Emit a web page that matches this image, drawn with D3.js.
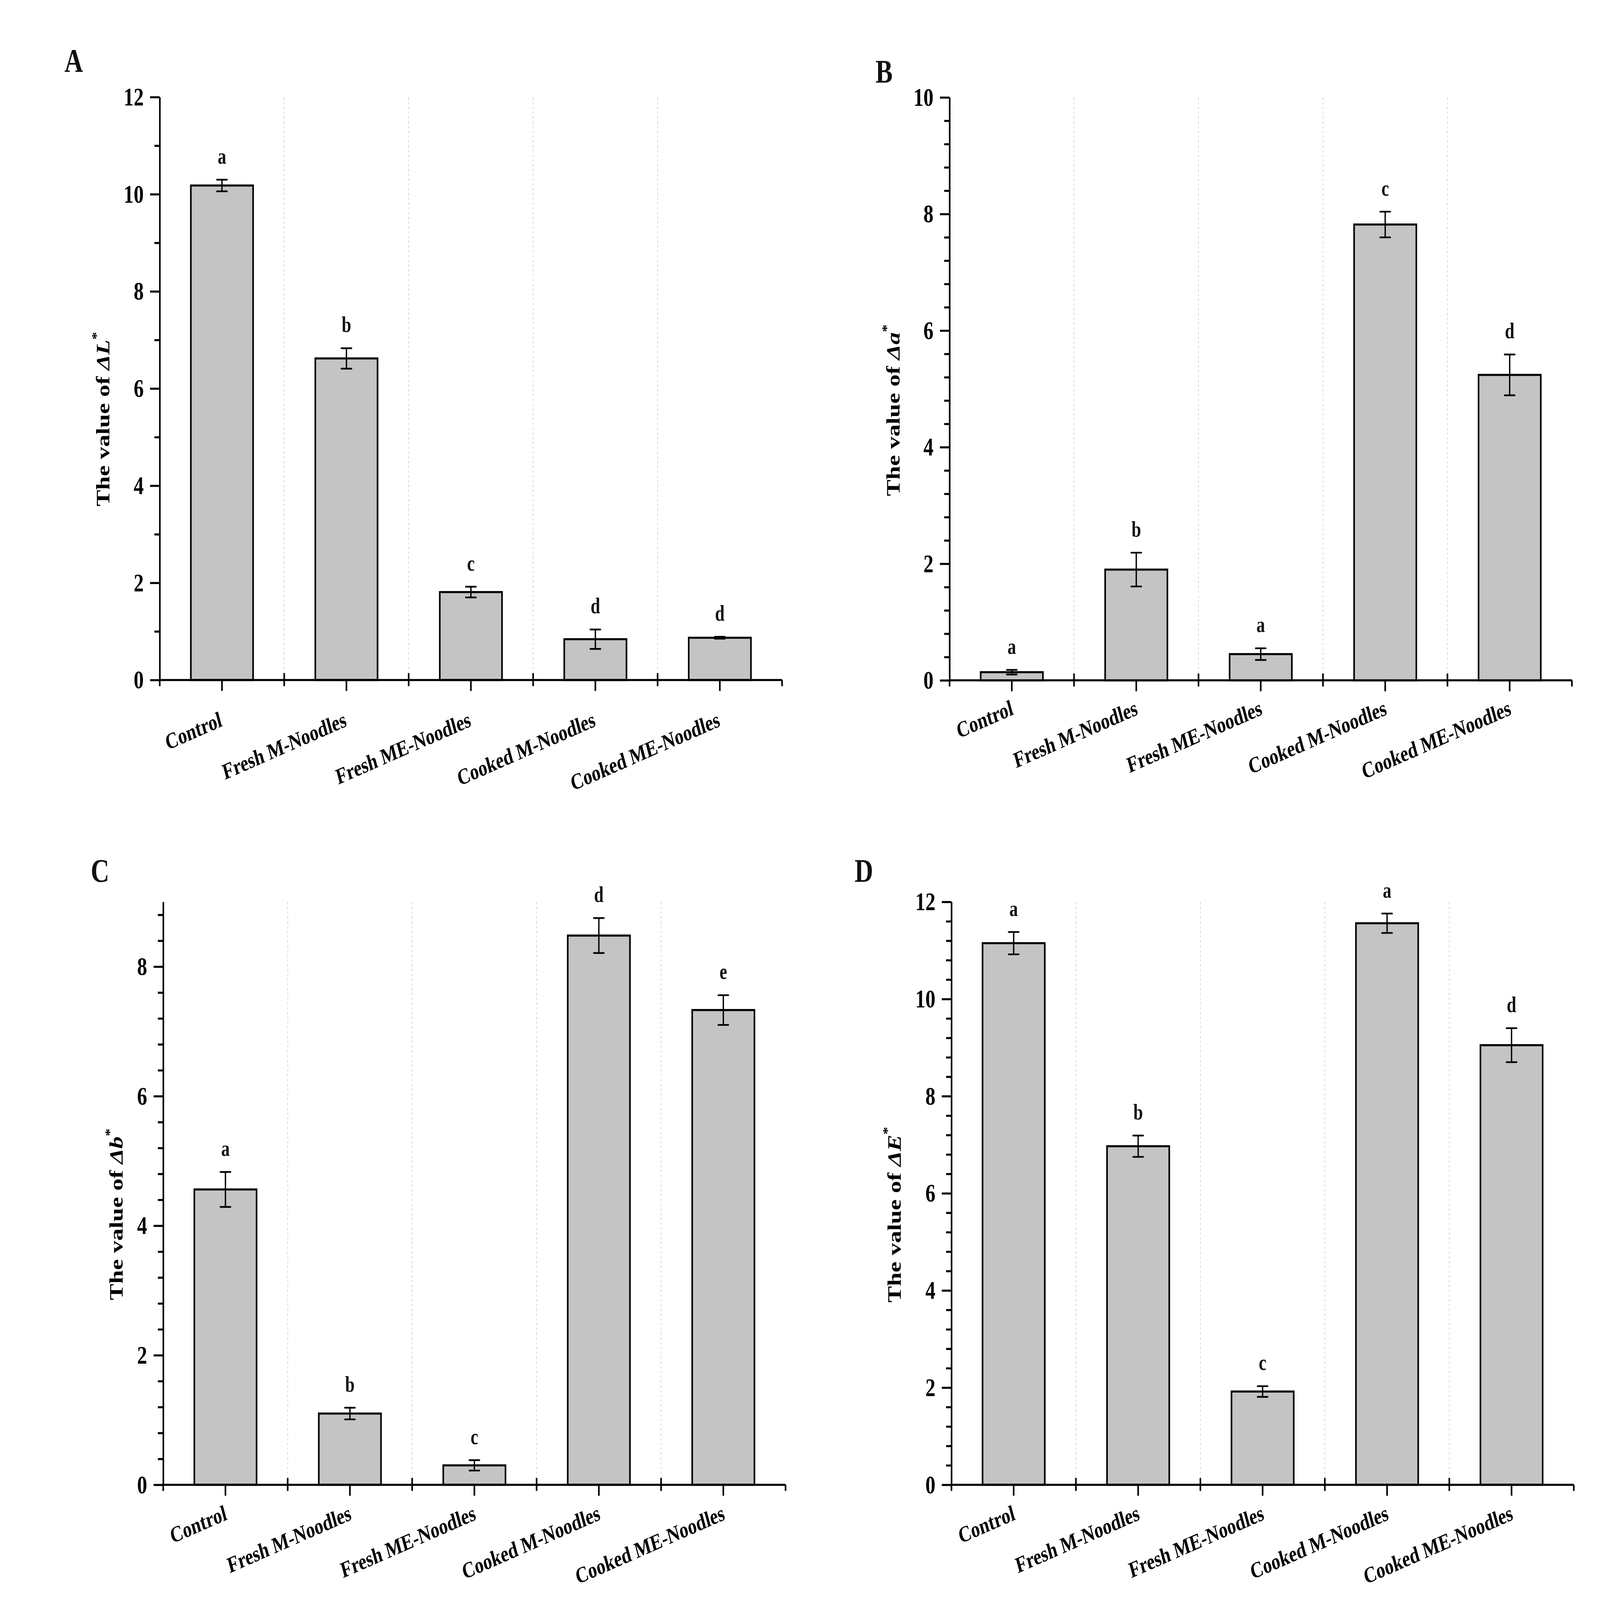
<!DOCTYPE html>
<html>
<head>
<meta charset="utf-8">
<script src="https://cdn.jsdelivr.net/npm/d3@7"></script>
<style>
  html, body { margin: 0; padding: 0; background: #fff; overflow: hidden; }
  #chart svg { display: block; }
  text { font-family: "Liberation Serif", "Times New Roman", serif; font-weight: bold; }
</style>
</head>
<body>
<div id="chart"></div>
<script>
// categories shared by all four panels
const categories = ["Control", "Fresh M-Noodles", "Fresh ME-Noodles", "Cooked M-Noodles", "Cooked ME-Noodles"];

// panel A: delta L*
const dL = [10.18, 6.62, 1.81, 0.84, 0.87];
const dLErr = [0.12, 0.21, 0.11, 0.20, 0.02];
const dLSig = ["a", "b", "c", "d", "d"];
// panel B: delta a*
const dA = [0.14, 1.90, 0.45, 7.82, 5.24];
const dAErr = [0.04, 0.29, 0.10, 0.22, 0.35];
const dASig = ["a", "b", "a", "c", "d"];
// panel C: delta b*
const dB = [4.56, 1.10, 0.30, 8.48, 7.33];
const dBErr = [0.27, 0.09, 0.08, 0.27, 0.23];
const dBSig = ["a", "b", "c", "d", "e"];
// panel D: delta E*
const dE = [11.15, 6.97, 1.92, 11.56, 9.05];
const dEErr = [0.23, 0.22, 0.11, 0.20, 0.35];
const dESig = ["a", "b", "c", "a", "d"];

// y tick values
const ticksA = [0, 2, 4, 6, 8, 10, 12];
const minorA = [1, 3, 5, 7, 9, 11];
const ticksB = [0, 2, 4, 6, 8, 10];
const ticksC = [0, 2, 4, 6, 8];
const ticksD = [0, 2, 4, 6, 8, 10, 12];

// minor ticks every 0.4 between majors
function minors(max) {
  const out = [];
  for (let i = 1; i * 0.4 <= max + 1e-9; i++) {
    if (i % 5 !== 0) out.push(+(i * 0.4).toFixed(1));
  }
  return out;
}

const W = 5980, H = 4680;
// drawn in 5980x4680 units, stretched to fill the window
const svg = d3.select("#chart").append("svg")
  .attr("viewBox", `0 0 ${W} ${H}`)
  .attr("preserveAspectRatio", "none")
  .style("width", "100vw").style("height", "100vh");
svg.append("rect").attr("width", W).attr("height", H).attr("fill", "#fff");

const panels = [
  { tag: "A", sym: "L", vals: dL, err: dLErr, sig: dLSig, max: 12, ticks: ticksA, minor: minorA,
    x0: 597, y0: 284, tagX: 241, tagY: 210, titleX: -188, titleY: 1197, labDx: 4, labDy: 134 },
  { tag: "B", sym: "a", vals: dA, err: dAErr, sig: dASig, max: 10, ticks: ticksB, minor: minors(10),
    x0: 3549, y0: 285, tagX: 3272, tagY: 242, titleX: -187, titleY: 1166, labDx: 9, labDy: 99 },
  { tag: "C", sym: "b", vals: dB, err: dBErr, sig: dBSig, max: 9, ticks: ticksC, minor: minors(9),
    x0: 610, y0: 2638, tagX: 339, tagY: 2580, titleX: -151, titleY: 1165, labDx: 9, labDy: 101 },
  { tag: "D", sym: "E", vals: dE, err: dEErr, sig: dESig, max: 12, ticks: ticksD, minor: minors(12),
    x0: 3556, y0: 2638, tagX: 3194, tagY: 2580, titleX: -190, titleY: 1172, labDx: 9, labDy: 101 }
];

const pw = 2326, ph = 1705;

panels.forEach(p => {
  svg.append("text")
    .attr("x", p.tagX).attr("y", p.tagY)
    .attr("font-size", 96).attr("fill", "#111")
    .text(p.tag);

  const g = svg.append("g").attr("transform", `translate(${p.x0},${p.y0})`);

  const x = d3.scaleBand().domain(categories).range([0, pw])
    .paddingInner(0.5).paddingOuter(0.25);
  const step = x.step();
  const y = d3.scaleLinear().domain([0, p.max]).range([ph, 0]);

  // dashed separators between categories
  g.selectAll(".sep").data(d3.range(1, categories.length)).enter()
    .append("line")
    .attr("x1", i => i * step).attr("x2", i => i * step)
    .attr("y1", 0).attr("y2", ph)
    .attr("stroke", "#c8c8c8").attr("stroke-width", 2)
    .attr("stroke-dasharray", "7,7");

  // bars
  g.selectAll(".bar").data(p.vals).enter()
    .append("rect")
    .attr("x", (d, i) => x(categories[i]))
    .attr("y", d => y(d))
    .attr("width", x.bandwidth())
    .attr("height", d => y(0) - y(d))
    .attr("fill", "#c4c4c4")
    .attr("stroke", "#000").attr("stroke-width", 6);

  // error bars
  const cx = i => x(categories[i]) + x.bandwidth() / 2;
  const eb = g.selectAll(".err").data(p.vals).enter().append("g");
  eb.append("line")
    .attr("x1", (d, i) => cx(i)).attr("x2", (d, i) => cx(i))
    .attr("y1", (d, i) => y(d + p.err[i])).attr("y2", (d, i) => y(d - p.err[i]))
    .attr("stroke", "#000").attr("stroke-width", 5);
  [1, -1].forEach(s => {
    eb.append("line")
      .attr("x1", (d, i) => cx(i) - 19).attr("x2", (d, i) => cx(i) + 19)
      .attr("y1", (d, i) => y(d + s * p.err[i])).attr("y2", (d, i) => y(d + s * p.err[i]))
      .attr("stroke", "#000").attr("stroke-width", 5).attr("stroke-linecap", "round");
  });

  // significance letters
  g.selectAll(".sig").data(p.vals).enter()
    .append("text")
    .attr("x", (d, i) => cx(i))
    .attr("y", (d, i) => y(d + p.err[i]) - 47)
    .attr("text-anchor", "middle")
    .attr("font-size", 64).attr("fill", "#111")
    .text((d, i) => p.sig[i]);

  // y axis: minor then major ticks
  g.append("g")
    .call(d3.axisLeft(y).tickValues(p.minor).tickSize(20).tickSizeOuter(0).tickFormat(""))
    .call(a => a.select(".domain").remove())
    .selectAll("line").attr("stroke-width", 6);
  const ya = g.append("g")
    .call(d3.axisLeft(y).tickValues(p.ticks).tickSize(36).tickSizeOuter(0).tickPadding(24));
  ya.select(".domain").attr("stroke-width", 6);
  ya.selectAll("line").attr("stroke-width", 6);
  ya.selectAll("text")
    .attr("font-size", 75).attr("font-family", "Liberation Serif, serif")
    .attr("font-weight", "bold").attr("fill", "#000");

  // x axis line
  g.append("line")
    .attr("x1", -3).attr("x2", pw).attr("y1", ph).attr("y2", ph)
    .attr("stroke", "#000").attr("stroke-width", 6);

  // ticks at category centres
  g.selectAll(".ct").data(categories).enter()
    .append("line")
    .attr("x1", d => x(d) + x.bandwidth() / 2).attr("x2", d => x(d) + x.bandwidth() / 2)
    .attr("y1", ph).attr("y2", ph + 32)
    .attr("stroke", "#000").attr("stroke-width", 6);
  // ticks at boundaries
  g.selectAll(".bt").data(d3.range(0, categories.length + 1)).enter()
    .append("line")
    .attr("x1", i => i * step).attr("x2", i => i * step)
    .attr("y1", i => (i === 0 || i === categories.length) ? ph : ph - 20)
    .attr("y2", ph + 18)
    .attr("stroke", "#000").attr("stroke-width", 6);

  // category labels
  g.selectAll(".cl").data(categories).enter()
    .append("text")
    .attr("transform", d => `translate(${x(d) + x.bandwidth() / 2 + p.labDx},${ph + p.labDy}) rotate(-19)`)
    .attr("text-anchor", "end")
    .attr("font-size", 66).attr("fill", "#000")
    .text(d => d);

  // y title
  const t = g.append("text")
    .attr("transform", `translate(${p.titleX},${p.titleY}) rotate(-90)`)
    .attr("font-size", 72).attr("fill", "#000");
  t.append("tspan").text("The value of ");
  t.append("tspan").attr("font-style", "italic").text("\u0394" + p.sym);
  t.append("tspan").attr("font-size", 46).attr("dy", -34).text("*");
});
</script>
</body>
</html>
